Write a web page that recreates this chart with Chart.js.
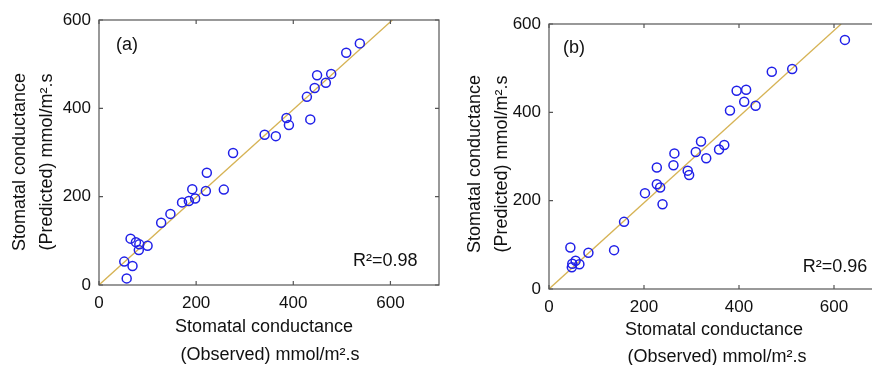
<!DOCTYPE html>
<html>
<head>
<meta charset="utf-8">
<script src="https://cdn.jsdelivr.net/npm/chart.js@4"></script>
<style>
html, body { margin: 0; padding: 0; background: #fff; overflow: hidden; width: 872px; height: 365px; }
.panel { position: absolute; top: 0; height: 365px; overflow: hidden; }
#wrapA { left: 0; width: 445px; }
#wrapB { left: 445px; width: 427px; }
</style>
</head>
<body>
<div class="panel" id="wrapA"><canvas id="chartA" width="445" height="365"></canvas></div>
<div class="panel" id="wrapB"><canvas id="chartB" width="445" height="365"></canvas></div>
<script>
// data (mmol/m2.s)
const observedA = [52, 57, 69, 65, 76, 83, 82, 100, 128, 147, 171, 185, 198, 192, 220, 222, 257, 276, 341, 364, 386, 391, 435, 428, 444, 449, 467, 478, 509, 537];
const predictedA = [53, 15, 43, 105, 97, 92, 79, 89, 141, 161, 187, 190, 196, 217, 213, 254, 216, 299, 340, 337, 378, 362, 375, 426, 446, 475, 458, 478, 526, 547];

const observedB = [45, 49, 48, 56, 64, 83, 137, 158, 202, 239, 227, 234, 227, 262, 264, 292, 295, 309, 331, 320, 358, 369, 381, 395, 415, 411, 435, 469, 512, 623];
const predictedB = [94, 57, 49, 64, 56, 82, 88, 152, 217, 192, 237, 230, 275, 280, 307, 268, 258, 310, 296, 334, 316, 326, 404, 449, 451, 424, 415, 492, 498, 564];

// fitted lines (two end points each)
const fitAx = [0, 604];
const fitAy = [0, 600];
const fitBx = [0, 615];
const fitBy = [0, 600];

const xTicks = [0, 200, 400, 600];
const yTicks = [0, 200, 400, 600];

const FONT = "'Liberation Sans', Arial, sans-serif";

function toPoints(xs, ys) {
    return xs.map((v, i) => ({ x: v, y: ys[i] }));
}

// box with inward ticks + the panel texts
const framePlugin = {
    id: 'frame',
    afterDraw(chart, args, o) {
        const { ctx, chartArea: a, scales: { x, y } } = chart;
        ctx.save();
        ctx.strokeStyle = '#555';
        ctx.lineWidth = 1.2;
        ctx.strokeRect(a.left, a.top, a.right - a.left, a.bottom - a.top);
        ctx.beginPath();
        x.ticks.forEach(t => {
            const px = x.getPixelForValue(t.value);
            ctx.moveTo(px, a.bottom); ctx.lineTo(px, a.bottom - 4);
            ctx.moveTo(px, a.top); ctx.lineTo(px, a.top + 4);
        });
        y.ticks.forEach(t => {
            const py = y.getPixelForValue(t.value);
            ctx.moveTo(a.left, py); ctx.lineTo(a.left + 4, py);
            ctx.moveTo(a.right, py); ctx.lineTo(a.right - 4, py);
        });
        ctx.stroke();

        ctx.fillStyle = '#111';
        ctx.font = '18px ' + FONT;
        ctx.textBaseline = 'alphabetic';

        ctx.textAlign = 'left';
        ctx.fillText(o.tag, o.tagPos[0], o.tagPos[1]);
        ctx.fillText(o.r2, x.getPixelForValue(o.r2Pos[0]), y.getPixelForValue(o.r2Pos[1]));

        ctx.textAlign = 'center';
        ctx.fillText('Stomatal conductance', o.xTitleX[0], o.xTitleY[0]);
        ctx.fillText('(Observed) mmol/m\u00b2.s', o.xTitleX[1], o.xTitleY[1]);

        const yTexts = ['Stomatal conductance', '(Predicted) mmol/m\u00b2.s'];
        yTexts.forEach((txt, i) => {
            ctx.save();
            ctx.translate(o.yTitleX[i], o.yTitleY);
            ctx.rotate(-Math.PI / 2);
            ctx.fillText(txt, 0, 0);
            ctx.restore();
        });
        ctx.restore();
    }
};

function makeChart(id, obs, pred, fx, fy, yWidth, xHeight, pad, frame) {
    const ctx = document.getElementById(id).getContext('2d');
    return new Chart(ctx, {
        type: 'scatter',
        data: {
            datasets: [{
                type: 'line',
                data: toPoints(fx, fy),
                borderColor: '#d6b355',
                borderWidth: 1.3,
                pointRadius: 0,
                fill: false,
                order: 2
            }, {
                data: toPoints(obs, pred),
                pointStyle: 'circle',
                pointRadius: 4.5,
                borderWidth: 1.5,
                borderColor: '#2020e8',
                backgroundColor: 'rgba(0,0,0,0)',
                order: 1
            }]
        },
        options: {
            responsive: false,
            animation: false,
            layout: { padding: pad },
            plugins: {
                legend: { display: false },
                tooltip: { enabled: false },
                frame: frame
            },
            scales: {
                x: {
                    type: 'linear',
                    min: 0,
                    max: 700,
                    afterBuildTicks: s => { s.ticks = xTicks.map(v => ({ value: v })); },
                    afterFit: s => { s.height = xHeight; },
                    grid: { display: false, drawTicks: false },
                    border: { display: false },
                    ticks: { color: '#111', font: { size: 17, family: FONT }, padding: 8, maxRotation: 0, autoSkip: false }
                },
                y: {
                    type: 'linear',
                    min: 0,
                    max: 600,
                    afterBuildTicks: s => { s.ticks = yTicks.map(v => ({ value: v })); },
                    afterFit: s => { s.width = yWidth; },
                    grid: { display: false, drawTicks: false },
                    border: { display: false },
                    ticks: { color: '#111', font: { size: 17, family: FONT }, padding: 8, autoSkip: false }
                }
            }
        },
        plugins: [framePlugin]
    });
}

makeChart('chartA', observedA, predictedA, fitAx, fitAy, 99, 80,
    { left: 0, top: 20, right: 6, bottom: 0 },
    { tag: '(a)', tagPos: [116, 50], r2: 'R\u00b2=0.98', r2Pos: [523, 44],
      xTitleX: [264, 270], xTitleY: [332, 360], yTitleX: [25, 52], yTitleY: 162 });

makeChart('chartB', observedB, predictedB, fitBx, fitBy, 104, 76,
    { left: 0, top: 24, right: 8.5, bottom: 0 },
    { tag: '(b)', tagPos: [118, 53], r2: 'R\u00b2=0.96', r2Pos: [534, 39],
      xTitleX: [269, 272], xTitleY: [335, 362], yTitleX: [35, 62], yTitleY: 164 });
</script>
</body>
</html>
